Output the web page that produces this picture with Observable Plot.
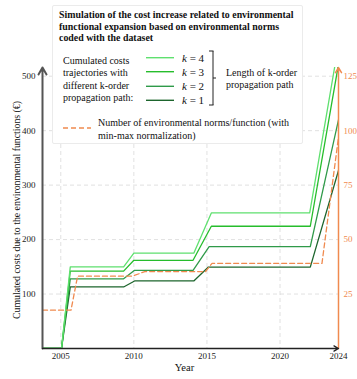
<!DOCTYPE html>
<html>
<head>
<meta charset="utf-8">
<script src="https://cdn.jsdelivr.net/npm/d3@7"></script>
<script src="https://cdn.jsdelivr.net/npm/@observablehq/plot@0.6"></script>
<style>
  body { margin: 0; background: #fff; }
  #wrap { position: relative; width: 357px; height: 379px; font-family: "Liberation Serif", "Times New Roman", serif; color: #111; }
  #wrap svg text { font-family: "Liberation Serif", "Times New Roman", serif; }
  #legend { position: absolute; left: 52px; top: 5px; width: 249px; height: 137px; background: #fff; border: 1px solid #ebebeb; border-radius: 2px; }
  .t { position: absolute; white-space: nowrap; }
  .title { font-weight: bold; font-size: 9.9px; line-height: 11.5px; }
  .body { font-size: 10px; }
  .k { font-size: 11px; }
</style>
</head>
<body>
<div id="wrap"></div>
<script>
// ---------- data ----------
const xDomain = [2003.75, 2024];
const yDomain = [0, 516];
const leftTicks = [100, 200, 300, 400, 500];
const yearTicks = [2005, 2010, 2015, 2020, 2024];
const gridYears = [2005, 2010, 2015, 2020];

const k4Years = [2003.75, 2005.05, 2005.65, 2009.3, 2010.0, 2014.1, 2015.3, 2022.03, 2024];
const k4Costs = [0, 0, 150, 150, 175, 175, 249, 249, 558];
const k3Years = [2003.75, 2005.05, 2005.65, 2009.3, 2010.0, 2014.05, 2015.3, 2022.07, 2024];
const k3Costs = [0, 0, 142, 142, 162, 162, 224.5, 224.5, 522];
const k2Years = [2003.75, 2005.05, 2005.65, 2009.3, 2010.05, 2014.05, 2015.15, 2022.07, 2024];
const k2Costs = [0, 0, 128, 128, 143.5, 143.5, 187, 187, 420];
const k1Years = [2003.75, 2005.05, 2005.65, 2009.3, 2010.05, 2014.1, 2015.1, 2022.07, 2024];
const k1Costs = [0, 0, 113, 113, 124, 124, 149.5, 149.5, 327];

const normYears = [2003.75, 2005.7, 2006.15, 2009.9, 2010.75, 2014.9, 2015.35, 2022.87, 2024];
const normValues = [17.6, 17.6, 33.2, 33.2, 35.3, 35.3, 39.1, 39.1, 97]; // right axis units (0-125)
const rightFactor = 4; // right axis value * 4 = left axis value

const seriesNames = ["k = 4", "k = 3", "k = 2", "k = 1"];
const seriesColors = ["#5fe06f", "#26bd2c", "#2f9a49", "#1d652d"];
const orange = "#f08a4f";

const yLabel = "Cumulated costs due to the environmental functions (€)";
const xLabel = "Year";

// ---------- build ----------
const serif = "'Liberation Serif', 'Times New Roman', serif";
const toRows = (xs, ys) => xs.map((x, i) => ({x, y: ys[i]}));
const series = [
  toRows(k1Years, k1Costs),
  toRows(k2Years, k2Costs),
  toRows(k3Years, k3Costs),
  toRows(k4Years, k4Costs)
];
const seriesColorOrder = [seriesColors[3], seriesColors[2], seriesColors[1], seriesColors[0]];
const normRows = toRows(normYears, normValues);

const grid = {stroke: "#d9d9d9", strokeOpacity: 1, strokeDasharray: "4,3", strokeWidth: 0.8};

const chart = Plot.plot({
  width: 357,
  height: 379,
  marginLeft: 42,
  marginRight: 19,
  marginTop: 67,
  marginBottom: 31,
  style: {fontFamily: serif, fontSize: "9px", color: "#222", background: "transparent"},
  x: {domain: xDomain},
  y: {domain: yDomain},
  marks: [
    Plot.gridY(leftTicks, grid),
    Plot.gridX(gridYears, grid),
    ...series.map((rows, i) => Plot.line(rows, {x: "x", y: "y", stroke: seriesColorOrder[i], strokeWidth: 1.3, clip: true})),
    Plot.line(normRows, {x: "x", y: d => d.y * rightFactor, stroke: orange, strokeWidth: 1.3, strokeDasharray: "5,3", clip: true}),
    Plot.axisX(yearTicks, {tickSize: 0, tickPadding: 4, tickFormat: d => String(d), label: null, fontSize: 9, fill: "#222"}),
    Plot.axisY(leftTicks, {anchor: "left", tickSize: 0, tickPadding: 7, label: null, fontSize: 9, fill: "#222"}),
    Plot.axisY(leftTicks, {anchor: "right", tickSize: 0, tickPadding: 5, label: null, fontSize: 9, fill: orange, tickFormat: d => String(d / rightFactor)}),
    Plot.arrow([{x: xDomain[0]}], {x1: "x", x2: "x", y1: () => yDomain[0], y2: () => yDomain[1], stroke: "#555", strokeWidth: 2, headLength: 6, bend: false}),
    Plot.arrow([{x: xDomain[1]}], {x1: "x", x2: "x", y1: () => yDomain[0], y2: () => yDomain[1], stroke: orange, strokeWidth: 1.5, headLength: 6, bend: false}),
    Plot.arrow([{y: yDomain[0]}], {x1: () => xDomain[0], x2: () => xDomain[1], y1: "y", y2: "y", stroke: "#222", strokeWidth: 1.3, headLength: 6, bend: false}),
    Plot.text([yLabel], {frameAnchor: "left", textAnchor: "middle", dx: -26, dy: 2, rotate: -90, fontSize: 9.8, fill: "#111"}),
    Plot.text([xLabel], {frameAnchor: "bottom", dy: 22, dx: -6, fontSize: 10.5, fill: "#111"})
  ]
});

const wrap = document.getElementById("wrap");
wrap.appendChild(chart);

// ---------- legend overlay ----------
const legend = document.createElement("div");
legend.id = "legend";
wrap.appendChild(legend);
const ox = 52, oy = 5;
function addText(txt, x, y, cls) {
  const d = document.createElement("div");
  d.className = "t " + cls;
  d.style.left = (x - ox) + "px";
  d.style.top = (y - oy) + "px";
  d.innerHTML = txt;
  legend.appendChild(d);
}
addText("Simulation of the cost increase related to environmental<br>functional expansion based on environmental norms<br>coded with the dataset", 58, 8, "title");
["Cumulated costs", "trajectories with", "different k-order", "propagation path:"].forEach((s, i) => addText(s, 62, 54 + i * 12.3, "body"));
["Length of k-order", "propagation path"].forEach((s, i) => addText(s, 225, 66 + i * 12.3, "body"));
["Number of environmental norms/function (with", "min-max normalization)"].forEach((s, i) => addText(s, 97, 116 + i * 13, "body"));

const kY = [57.7, 71.7, 86.3, 100.3];
seriesNames.forEach((name, i) => {
  const parts = name.split(" = ");
  addText("<i>" + parts[0] + "</i> = " + parts[1], 181, kY[i] - 7, "k");
});

const ns = "http://www.w3.org/2000/svg";
const svg = document.createElementNS(ns, "svg");
svg.setAttribute("width", 357);
svg.setAttribute("height", 379);
svg.style.position = "absolute";
svg.style.left = "0px";
svg.style.top = "0px";
svg.style.pointerEvents = "none";
wrap.appendChild(svg);
function seg(x1, y1, x2, y2, stroke, w, dash) {
  const l = document.createElementNS(ns, "line");
  l.setAttribute("x1", x1); l.setAttribute("y1", y1);
  l.setAttribute("x2", x2); l.setAttribute("y2", y2);
  l.setAttribute("stroke", stroke); l.setAttribute("stroke-width", w);
  if (dash) l.setAttribute("stroke-dasharray", dash);
  svg.appendChild(l);
}
seriesColors.forEach((c, i) => seg(146, kY[i], 174, kY[i], c, 1.4));
// bracket
seg(213, 51, 213, 105, "#222", 1);
seg(209, 51, 213.5, 51, "#222", 1);
seg(209, 105, 213.5, 105, "#222", 1);
seg(213, 78, 216, 78, "#222", 1);
// dashed sample
seg(63, 128, 91, 128, orange, 1.4, "5,3");
</script>
</body>
</html>
